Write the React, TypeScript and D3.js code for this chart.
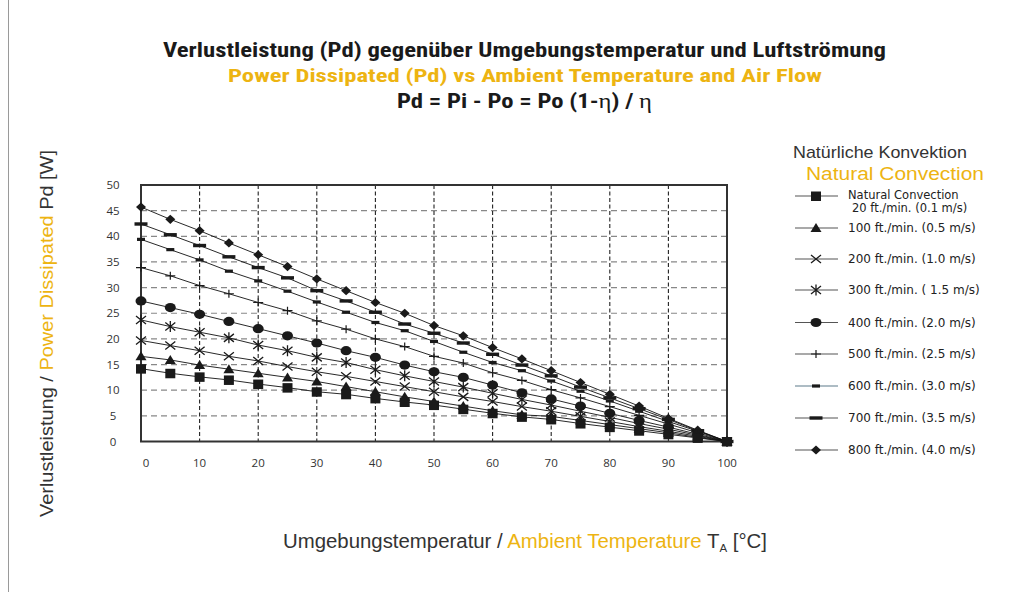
import React from 'react';
import * as d3 from 'd3';

const temps = [0, 5, 10, 15, 20, 25, 30, 35, 40, 45, 50, 55, 60, 65, 70, 75, 80, 85, 90, 95, 100];

const sNatural = [14.2, 13.3, 12.6, 12.0, 11.2, 10.5, 9.7, 9.2, 8.4, 7.7, 7.1, 6.3, 5.5, 4.8, 4.3, 3.5, 2.8, 2.1, 1.4, 0.7, 0];
const s100 = [16.6, 15.9, 14.9, 14.1, 13.3, 12.5, 11.7, 10.7, 9.7, 8.7, 7.8, 6.9, 6.0, 5.2, 4.9, 4.1, 3.3, 2.5, 1.7, 0.8, 0];
const s200 = [19.7, 18.7, 17.7, 16.6, 15.7, 14.6, 13.6, 12.7, 11.7, 10.7, 9.7, 8.7, 7.8, 6.8, 5.9, 4.9, 3.9, 2.9, 2.0, 1.0, 0];
const s300 = [23.7, 22.4, 21.3, 20.2, 18.8, 17.7, 16.4, 15.4, 14.0, 12.8, 11.7, 10.6, 9.4, 8.2, 7.1, 5.9, 4.7, 3.5, 2.4, 1.2, 0];
const s400 = [27.4, 26.1, 24.8, 23.4, 22.0, 20.6, 19.2, 17.7, 16.4, 14.9, 13.6, 12.5, 11.0, 9.5, 8.3, 6.9, 5.5, 4.1, 2.8, 1.4, 0];
const s500 = [33.9, 32.3, 30.4, 28.8, 27.1, 25.5, 23.5, 21.9, 20.0, 18.5, 16.6, 15.3, 13.4, 11.9, 10.1, 8.5, 6.8, 5.1, 3.4, 1.7, 0];
const s600 = [39.4, 37.4, 35.4, 33.2, 31.3, 29.3, 27.2, 25.2, 23.2, 21.6, 19.5, 17.4, 15.4, 13.8, 11.8, 9.8, 7.9, 5.9, 3.9, 2.0, 0];
const s700 = [42.4, 40.3, 38.2, 36.0, 33.9, 31.9, 29.4, 27.4, 25.2, 22.9, 21.1, 19.2, 17.0, 14.9, 12.8, 10.6, 8.5, 6.4, 4.3, 2.1, 0];
const s800 = [45.7, 43.3, 41.1, 38.7, 36.4, 34.1, 31.7, 29.4, 27.1, 25.0, 22.6, 20.6, 18.3, 16.1, 13.8, 11.5, 9.2, 6.9, 4.5, 2.2, 0];

const legendLabels = [
  ['Natural Convection', '20 ft./min. (0.1 m/s)'],
  ['100 ft./min. (0.5 m/s)'],
  ['200 ft./min. (1.0 m/s)'],
  ['300 ft./min. ( 1.5 m/s)'],
  ['400 ft./min. (2.0 m/s)'],
  ['500 ft./min. (2.5 m/s)'],
  ['600 ft./min. (3.0 m/s)'],
  ['700 ft./min. (3.5 m/s)'],
  ['800 ft./min. (4.0 m/s)'],
];
const markerTypes = ['square', 'triangle', 'x', 'asterisk', 'circle', 'plus', 'dash', 'thickdash', 'diamond'];
const seriesValues = [sNatural, s100, s200, s300, s400, s500, s600, s700, s800];

const yTicks = [0, 5, 10, 15, 20, 25, 30, 35, 40, 45, 50];
const xTicks = [0, 10, 20, 30, 40, 50, 60, 70, 80, 90, 100];

const GOLD = '#EDB412';
const INK = '#1a1a1a';

function Marker({ type, x, y }: { type: string; x: number; y: number }) {
  const t = `translate(${x},${y})`;
  switch (type) {
    case 'square':
      return <rect x={x - 5} y={y - 4.5} width={10} height={9.5} fill={INK} />;
    case 'triangle':
      return <path transform={t} d="M0,-5 L5.5,4 L-5.5,4 Z" fill={INK} />;
    case 'x':
      return <path transform={t} d="M-5,-4 L5,4 M-5,4 L5,-4" stroke={INK} strokeWidth={1.3} fill="none" />;
    case 'asterisk':
      return <path transform={t} d="M-5,-4 L5,4 M-5,4 L5,-4 M0,-5.5 L0,5.5" stroke={INK} strokeWidth={1.3} fill="none" />;
    case 'circle':
      return <ellipse cx={x} cy={y} rx={5.5} ry={4.6} fill={INK} />;
    case 'plus':
      return <path transform={t} d="M-5,0 L5,0 M0,-4 L0,4" stroke={INK} strokeWidth={1.2} fill="none" />;
    case 'dash':
      return <rect x={x - 4} y={y - 1.6} width={8} height={3.2} fill={INK} />;
    case 'thickdash':
      return <rect x={x - 6.5} y={y - 1.7} width={13} height={3.4} fill={INK} />;
    case 'diamond':
      return <path transform={t} d="M0,-4.6 L5,0 L0,4.6 L-5,0 Z" fill={INK} />;
  }
  return null;
}

export default function App() {
  const x = d3.scaleLinear().domain([0, 100]).range([141, 727]);
  const y = d3.scaleLinear().domain([0, 50]).range([441.5, 185]);
  const line = d3
    .line<number>()
    .x((_, i) => x(temps[i]))
    .y((d) => y(d));

  const order = [8, 7, 6, 5, 4, 3, 2, 1, 0];
  const legendY = [196, 228, 259, 290, 322.5, 354, 386, 418, 450];
  const condensed = "'Liberation Sans Narrow', 'Roboto Condensed', 'Liberation Sans', sans-serif";

  return (
    <svg
      width={1032}
      height={592}
      style={{ position: 'absolute', left: 0, top: 0, background: '#fff' }}
      fontFamily="'Liberation Sans', Arial, sans-serif"
    >
      <rect x={0} y={0} width={1032} height={592} fill="#fff" />
      <line x1={8.5} y1={0} x2={8.5} y2={592} stroke="#9a9a9a" strokeWidth={1} />

      {/* Titles */}
      <text x={524.5} y={57} textAnchor="middle" fontFamily={condensed} fontWeight="bold" fontSize={20} fill={INK}
        textLength={723} lengthAdjust="spacingAndGlyphs">
        Verlustleistung (Pd) gegenüber Umgebungstemperatur und Luftströmung
      </text>
      <text x={525} y={82} textAnchor="middle" fontFamily={condensed} fontWeight="bold" fontSize={19} fill={GOLD}
        textLength={594} lengthAdjust="spacingAndGlyphs">
        Power Dissipated (Pd) vs Ambient Temperature and Air Flow
      </text>
      <text x={524.5} y={108} textAnchor="middle" fontFamily={condensed} fontWeight="bold" fontSize={21} fill={INK}
        textLength={255} lengthAdjust="spacingAndGlyphs">
        Pd = Pi - Po = Po (1-
        <tspan fontFamily="'Liberation Serif', serif" fontWeight="normal">η</tspan>) /{' '}
        <tspan fontFamily="'Liberation Serif', serif" fontWeight="normal">η</tspan>
      </text>

      {/* Gridlines */}
      {yTicks.filter((v) => v > 0 && v < 50).map((v) => (
        <line key={'h' + v} x1={x(0)} x2={x(100)} y1={y(v)} y2={y(v)} stroke="#888" strokeWidth={1.2} strokeDasharray="6 4" />
      ))}
      {xTicks.filter((v) => v > 0 && v < 100).map((v) => (
        <line key={'v' + v} x1={x(v)} x2={x(v)} y1={y(50)} y2={y(0)} stroke="#222" strokeWidth={1.1} strokeDasharray="4 2.5" />
      ))}
      <rect x={x(0)} y={y(50)} width={x(100) - x(0)} height={y(0) - y(50)} fill="none" stroke="#333" strokeWidth={2} />

      {/* Tick labels */}
      {yTicks.map((v) => (
        <text key={'yt' + v} x={113} y={y(v) + 4} textAnchor="middle" fontSize={11.5} fill="#333" fontFamily="'Open Sans', sans-serif">
          {v}
        </text>
      ))}
      {xTicks.map((v) => (
        <text key={'xt' + v} x={x(v) + (v === 0 ? 5 : 0)} y={467} textAnchor="middle" fontSize={11.5} fill="#333" fontFamily="'Open Sans', sans-serif">
          {v}
        </text>
      ))}

      {/* Lines */}
      {order.map((i) => (
        <path key={'l' + i} d={line(seriesValues[i]) || ''} fill="none" stroke="#111" strokeWidth={0.9} />
      ))}
      {/* Markers */}
      {order.map((i) =>
        seriesValues[i].map((v, j) => (
          <Marker key={'m' + i + '-' + j} type={markerTypes[i]} x={x(temps[j])} y={y(v)} />
        ))
      )}

      {/* Axis labels */}
      <text transform="translate(53,333.5) rotate(-90)" textAnchor="middle" fontSize={19} fill="#333"
        textLength={367} lengthAdjust="spacingAndGlyphs">
        Verlustleistung /{' '}
        <tspan fill={GOLD}>Power Dissipated</tspan> Pd [W]
      </text>
      <text x={525} y={548} textAnchor="middle" fontSize={19.5} fill="#333" textLength={484} lengthAdjust="spacingAndGlyphs">
        Umgebungstemperatur / <tspan fill={GOLD}>Ambient Temperature</tspan> T
        <tspan fontSize={11} dy={4}>A</tspan>
        <tspan dy={-4}> [°C]</tspan>
      </text>

      {/* Legend */}
      <text x={793} y={158} fontSize={17} fill="#333" textLength={174} lengthAdjust="spacingAndGlyphs">Natürliche Konvektion</text>
      <text x={806} y={180} fontSize={17.5} fill={GOLD} textLength={178} lengthAdjust="spacingAndGlyphs">Natural Convection</text>
      {legendLabels.map((lab, i) => {
        const ly = legendY[i];
        const multi = lab.length > 1;
        return (
          <g key={'lg' + i}>
            <line x1={795} x2={838} y1={ly} y2={ly} stroke={i === 6 ? '#5d7a8a' : '#555'} strokeWidth={1.2} />
            <Marker type={markerTypes[i]} x={816} y={ly} />
            {lab.map((s, k) => (
              <text
                key={k}
                x={k === 0 ? 848 : 852}
                y={multi ? ly + 3 + k * 12.5 : ly + 4}
                fontSize={multi ? 11.5 : 12}
                fill="#222"
                fontFamily="'DejaVu Sans', sans-serif"
              >
                {s}
              </text>
            ))}
          </g>
        );
      })}
    </svg>
  );
}
